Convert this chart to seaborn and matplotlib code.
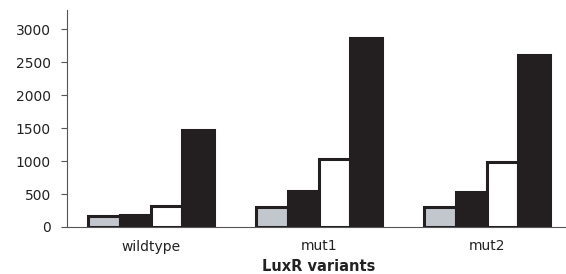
import matplotlib
matplotlib.use("Agg")
import matplotlib.pyplot as plt
import seaborn as sns
import pandas as pd
import numpy as np

categories = ["wildtype", "mut1", "mut2"]
series_names = ["s1", "s2", "s3", "s4"]
s1 = [160, 310, 305]
s2 = [185, 545, 535]
s3 = [320, 1035, 985]
s4 = [1475, 2860, 2605]
colors = ["#c2c6cd", "#231f20", "#ffffff", "#231f20"]

rows = []
for name, vals in zip(series_names, [s1, s2, s3, s4]):
    for c, v in zip(categories, vals):
        rows.append({"cat": c, "series": name, "value": v})
df = pd.DataFrame(rows)

sns.set_style("white")
plt.rcParams["font.family"] = ["DejaVu Sans"]

fig = plt.figure(figsize=(5.66, 2.74), dpi=100)
ax = fig.add_axes([67/566, 1-227/274, 504/566, 217/274])

sns.barplot(data=df, x="cat", y="value", hue="series", order=categories,
            hue_order=series_names, palette=colors, width=0.745,
            edgecolor="#231f20", linewidth=2.2, saturation=1, ax=ax, legend=False)

ax.set_xlim(-0.5, 2.5)
ax.set_ylim(0, 3290)
ax.set_yticks([0, 500, 1000, 1500, 2000, 2500, 3000])
ax.set_xticks([0, 1, 2])
ax.set_xticklabels(categories)
ax.set_xticks([0.5, 1.5], minor=True)
ax.tick_params(axis="x", which="major", length=0, labelsize=10, pad=9, colors="#222222")
ax.tick_params(axis="x", which="minor", length=3, width=0.8, color="#555555", direction="out")
ax.tick_params(axis="y", length=4.5, width=0.8, color="#555555", labelsize=10, pad=7,
               labelcolor="#222222", direction="out", left=True)
for s in ["top", "right"]:
    ax.spines[s].set_visible(False)
for s in ["left", "bottom"]:
    ax.spines[s].set_color("#555555")
    ax.spines[s].set_linewidth(0.8)
ax.set_xlabel("LuxR variants", fontsize=10.5, fontweight="bold", labelpad=4, color="#222222")
ax.set_ylabel("")

fig.savefig("out.png", dpi=100)
